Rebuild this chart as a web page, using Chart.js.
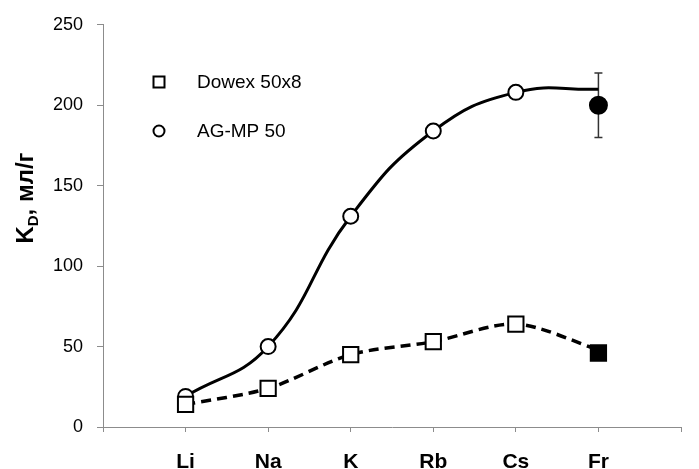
<!DOCTYPE html>
<html>
<head>
<meta charset="utf-8">
<script src="https://cdn.jsdelivr.net/npm/chart.js@4"></script>
<style>
  html, body { margin: 0; padding: 0; background: #fff; }
  #chart { display: block; }
</style>
</head>
<body>
<canvas id="chart" width="699" height="469"></canvas>
<script>
// categories (x positions 1..6 on a 0..7 axis)
const metals = ['Li', 'Na', 'K', 'Rb', 'Cs', 'Fr'];
const positions = [1, 2, 3, 4, 5, 6];

// measured points
const dowexValues = [14, 24, 45, 53, 64, 46];
const agValues = [19, 50, 131, 184, 208, 200];
const agError = [0, 0, 0, 0, 0, 20];

// smoothed trend curves
const dowexFit = [14, 24, 45, 53, 64, 48];
const agFit = [19, 50, 131, 184, 208, 210];

const yTicks = [0, 50, 100, 150, 200, 250];

const FONT = '"Liberation Sans", Arial, sans-serif';

function toPoints(vals) {
  return vals.map((v, i) => ({ x: positions[i], y: v }));
}

// last point (Fr) is filled black, others open
function fills(vals) {
  return vals.map((v, i) => (i === vals.length - 1 ? '#000' : '#fff'));
}

// error bars, drawn under the markers
const errorBars = {
  id: 'errorBars',
  beforeDatasetsDraw(chart) {
    const ctx = chart.ctx;
    const xs = chart.scales.x, ys = chart.scales.y;
    ctx.save();
    ctx.strokeStyle = '#333';
    ctx.lineWidth = 1.5;
    agError.forEach((e, i) => {
      if (!e) return;
      const x = xs.getPixelForValue(positions[i]);
      const top = ys.getPixelForValue(agValues[i] + e);
      const bot = ys.getPixelForValue(agValues[i] - e);
      ctx.beginPath();
      ctx.moveTo(x, top); ctx.lineTo(x, bot);
      ctx.moveTo(x - 4, top); ctx.lineTo(x + 4, top);
      ctx.moveTo(x - 4, bot); ctx.lineTo(x + 4, bot);
      ctx.stroke();
    });
    ctx.restore();
  }
};

// legend inside the plot + rotated y title with subscript
const extras = {
  id: 'extras',
  afterDraw(chart) {
    const ctx = chart.ctx;
    ctx.save();
    ctx.fillStyle = '#000';
    ctx.strokeStyle = '#000';
    ctx.lineWidth = 2;

    // legend
    const items = [chart.data.datasets[0], chart.data.datasets[1]];
    items.forEach((ds, k) => {
      const cy = 82 + k * 49;
      ctx.fillStyle = '#fff';
      ctx.beginPath();
      if (ds.pointStyle === 'rect') {
        ctx.rect(153.5, cy - 5.5, 11, 11);
      } else {
        ctx.arc(159, cy, 5.5, 0, Math.PI * 2);
      }
      ctx.fill();
      ctx.stroke();
      ctx.fillStyle = '#000';
      ctx.font = '19px ' + FONT;
      ctx.textBaseline = 'middle';
      ctx.textAlign = 'left';
      ctx.fillText(ds.label, 197, cy + 1);
    });

    // y axis title: K_D, мл/г
    const big = 'bold 24px ' + FONT;
    const small = 'bold 15px ' + FONT;
    ctx.font = big;
    const wK = ctx.measureText('K').width;
    const wRest = ctx.measureText(', мл/г').width;
    ctx.font = small;
    const wD = ctx.measureText('D').width;
    const total = wK + wD + wRest;
    ctx.translate(33, 198);
    ctx.rotate(-Math.PI / 2);
    ctx.textBaseline = 'alphabetic';
    ctx.textAlign = 'left';
    let x = -total / 2;
    ctx.font = big;
    ctx.fillText('K', x, 0);
    x += wK;
    ctx.font = small;
    ctx.fillText('D', x, 5);
    x += wD;
    ctx.font = big;
    ctx.fillText(', мл/г', x, 0);
    ctx.restore();
  }
};

new Chart(document.getElementById('chart'), {
  type: 'line',
  data: {
    datasets: [
      {
        label: 'Dowex 50x8',
        data: toPoints(dowexValues),
        showLine: false,
        pointStyle: 'rect',
        pointRadius: 10.8,
        pointBorderWidth: 2,
        pointBorderColor: '#000',
        pointBackgroundColor: fills(dowexValues),
        order: 0
      },
      {
        label: 'AG-MP 50',
        data: toPoints(agValues),
        showLine: false,
        pointStyle: 'circle',
        pointRadius: [7.5, 7.5, 7.5, 7.5, 7.5, 8.5],
        pointBorderWidth: 2,
        pointBorderColor: '#000',
        pointBackgroundColor: fills(agValues),
        order: 1
      },
      {
        label: 'Dowex fit',
        data: toPoints(dowexFit),
        borderColor: '#000',
        borderWidth: 3.5,
        borderDash: [10, 6],
        tension: 0.3,
        pointRadius: 0,
        fill: false,
        order: 2
      },
      {
        label: 'AG fit',
        data: toPoints(agFit),
        borderColor: '#000',
        borderWidth: 3,
        tension: 0.45,
        pointRadius: 0,
        fill: false,
        order: 3
      }
    ]
  },
  options: {
    responsive: false,
    animation: false,
    layout: { padding: { top: 24, right: 16, left: 0, bottom: 0 } },
    plugins: {
      legend: { display: false },
      tooltip: { enabled: false }
    },
    scales: {
      x: {
        type: 'linear',
        min: 0,
        max: 7,
        afterFit(scale) { scale.height = 42; },
        afterBuildTicks(scale) {
          scale.ticks = [0, 1, 2, 3, 4, 5, 6, 7].map(v => ({ value: v }));
        },
        border: { color: '#8c8c8c', width: 1 },
        grid: { drawOnChartArea: false, color: '#8c8c8c', tickLength: 5 },
        ticks: {
          color: '#000',
          font: { family: FONT, size: 21, weight: 'bold' },
          padding: 18,
          maxRotation: 0,
          autoSkip: false,
          callback: v => metals[positions.indexOf(v)] || ''
        }
      },
      y: {
        min: 0,
        max: 250,
        afterFit(scale) { scale.width = 103; },
        afterBuildTicks(scale) {
          scale.ticks = yTicks.map(v => ({ value: v }));
        },
        border: { color: '#8c8c8c', width: 1 },
        grid: { drawOnChartArea: false, color: '#8c8c8c', tickLength: 6 },
        ticks: {
          color: '#000',
          font: { family: FONT, size: 18 },
          padding: 14
        }
      }
    }
  },
  plugins: [errorBars, extras]
});
</script>
</body>
</html>
